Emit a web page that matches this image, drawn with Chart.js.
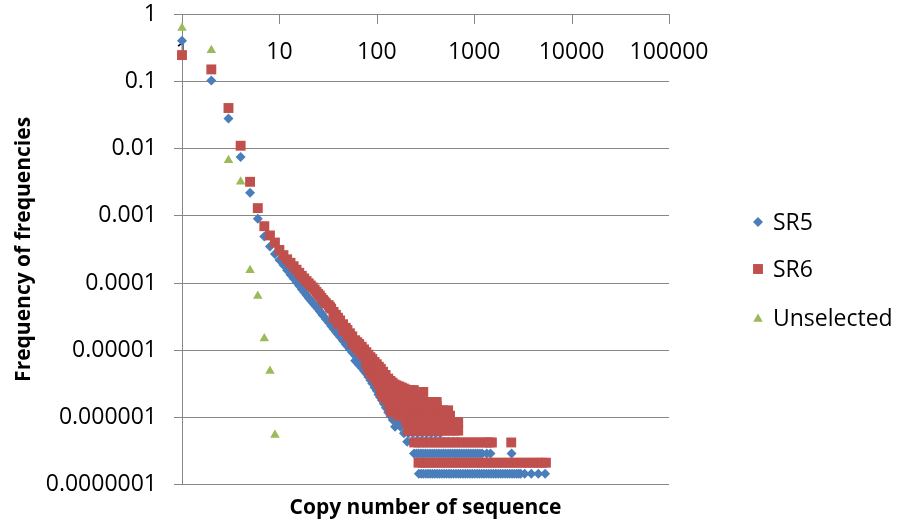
<!DOCTYPE html>
<html>
<head>
<meta charset="utf-8">
<script src="https://cdn.jsdelivr.net/npm/chart.js@4.4.0/dist/chart.umd.min.js"></script>
<style>
  html, body { margin: 0; padding: 0; background: #fff; }
  #wrap { width: 898px; height: 523px; }
</style>
</head>
<body>
<div id="wrap"><canvas id="freqChart" width="898" height="523"></canvas></div>
<script>
// ---- values ----
const seriesNames = ['SR5', 'SR6', 'Unselected'];
const xTickValues = [1, 10, 100, 1000, 10000, 100000];
const xTickLabels = ['1', '10', '100', '1000', '10000', '100000'];
const yTickValues = [1e-7, 1e-6, 1e-5, 1e-4, 1e-3, 1e-2, 1e-1, 1];
const yTickLabels = ['0.0000001', '0.000001', '0.00001', '0.0001', '0.001', '0.01', '0.1', '1'];

// [copy number, frequency]
const sr5Points = [
  [1, 0.40], [2, 0.103], [3, 0.028], [4, 0.0075], [5, 0.0022], [6, 0.0009],
  [7, 0.00049], [8, 0.00035], [9, 0.00027], [10, 0.00022], [11, 0.000185], [12, 0.000155],
  [13, 0.000133], [14, 0.000117], [15, 0.000103], [16, 0.000091], [17, 0.000081], [18, 0.000073],
  [19, 0.000066], [20, 0.00006], [21, 0.000055], [22, 0.000051], [23, 0.000047], [24, 0.000044],
  [25, 0.000041], [26, 0.000038], [27, 0.0000355], [28, 0.000033], [30, 0.000029], [32, 0.0000258],
  [34, 0.000023], [36, 0.0000208], [38, 0.0000188], [40, 0.0000172], [42, 0.0000158], [45, 0.0000139],
  [48, 0.0000123], [50, 0.0000115], [53, 0.0000103], [56, 0.0000093], [60, 0.0000083],
  [60, 0.000007], [63, 0.0000077], [63, 0.0000066], [66, 0.0000071], [66, 0.000006],
  [70, 0.0000065], [70, 0.0000055], [74, 0.000006], [74, 0.0000049], [78, 0.0000055], [78, 0.0000045],
  [82, 0.0000051], [82, 0.000004], [86, 0.0000047], [86, 0.0000036], [90, 0.0000043], [90, 0.0000032],
  [95, 0.0000039], [95, 0.0000028], [100, 0.0000035], [100, 0.0000025], [104, 0.0000032], [104, 0.0000022],
  [108, 0.000003], [108, 0.000002], [113, 0.0000027], [113, 0.0000018], [118, 0.0000025], [118, 0.0000016],
  [124, 0.0000023], [124, 0.0000014], [131, 0.000002], [131, 0.0000012], [138, 0.0000019], [138, 0.00000105],
  [146, 0.0000017], [146, 0.00000092], [154, 0.0000016], [154, 0.00000073], [165, 0.0000014], [176, 0.0000013],
  [188, 0.0000012], [200, 0.0000011]
];
// [frequency, copy numbers sharing it] : the flat rows at the bottom
const sr5Rows = [
  [1.46e-7, [270, 285, 300, 318, 335, 353, 372, 393, 415, 440, 465, 492, 520, 550, 580, 615, 650, 688,
             725, 768, 810, 857, 905, 957, 1010, 1070, 1130, 1195, 1260, 1335, 1410, 1490, 1575, 1665,
             1760, 1860, 1965, 2080, 2195, 2320, 2450, 2590, 2740, 2870, 3000, 3300, 3860, 4550, 5350]],
  [2.92e-7, [241, 255, 268, 283, 298, 315, 332, 351, 370, 390, 412, 435, 459, 485, 511, 540, 569, 601,
             634, 670, 706, 746, 786, 830, 875, 925, 975, 1030, 1085, 1145, 1210, 1345, 1470, 2420]],
  [4.38e-7, [205, 228, 254, 283, 315, 351, 391, 436, 486, 541, 603, 672]],
  [5.84e-7, [190, 211, 235, 262, 292, 325, 362, 403, 449]],
  [7.3e-7, [175, 195, 217, 241, 268, 298, 332, 370]],
  [8.76e-7, [163, 181, 202, 225, 250, 278, 310]],
  [1.17e-6, [150, 167, 186, 207, 230, 256]],
  [1.46e-6, [140, 156, 173, 193, 215]]
];

const sr6Points = [
  [1, 0.245], [2, 0.15], [3, 0.04], [4, 0.011], [5, 0.0032], [6, 0.0013],
  [7, 0.0007], [8, 0.00051], [9, 0.0004], [10, 0.00031], [11, 0.00026], [12, 0.000225],
  [13, 0.0002], [14, 0.000178], [15, 0.000158], [16, 0.000142], [17, 0.000128], [18, 0.000117],
  [19, 0.000107], [20, 0.000099], [21, 0.000092], [22, 0.000086], [23, 0.00008], [24, 0.000074],
  [25, 0.000069], [26, 0.000065], [27, 0.00006], [28, 0.000056], [29, 0.000053], [30, 0.00005],
  [32, 0.000047], [33, 0.000044], [34, 0.0000416], [36, 0.0000373], [38, 0.0000337], [40, 0.0000305],
  [42, 0.0000278], [45, 0.0000244], [48, 0.0000216], [50, 0.00002], [53, 0.0000179], [56, 0.0000161],
  [60, 0.0000141],
  [36, 0.00003], [40, 0.0000245], [45, 0.0000196], [50, 0.000016], [56, 0.0000128],
  [60, 0.0000116], [63, 0.0000132], [63, 0.0000108], [66, 0.0000124], [66, 0.0000099], [70, 0.0000113], [70, 0.000009],
  [74, 0.0000103], [74, 0.0000082], [78, 0.0000094], [78, 0.0000074], [78, 0.0000062],
  [82, 0.0000086], [82, 0.0000068], [82, 0.0000052], [86, 0.0000079], [86, 0.0000062], [86, 0.0000047],
  [90, 0.0000074], [90, 0.0000058], [90, 0.0000043], [95, 0.0000067], [95, 0.0000052], [95, 0.0000039],
  [100, 0.0000062], [100, 0.0000047], [100, 0.0000035], [105, 0.0000057], [105, 0.0000043], [105, 0.0000031],
  [110, 0.0000053], [110, 0.000004], [110, 0.0000029], [110, 0.0000024],
  [116, 0.0000048], [116, 0.0000036], [116, 0.0000027], [116, 0.0000021],
  [123, 0.0000043], [123, 0.0000033], [123, 0.0000025], [123, 0.0000019],
  [131, 0.0000038], [131, 0.000003], [131, 0.0000023], [131, 0.0000017],
  [138, 0.0000035], [138, 0.0000029], [138, 0.0000016], [138, 0.0000013],
  [145, 0.0000033], [145, 0.0000029], [145, 0.0000012], [152, 0.0000031], [160, 0.000003], [170, 0.0000029],
  [180, 0.0000028], [190, 0.0000027], [200, 0.0000026], [215, 0.0000025], [228, 0.0000024], [300, 0.0000024]
];
const sr6Rows = [
  [2.13e-7, [268, 297, 330, 371, 418, 470, 530, 596, 668, 752, 850, 955, 1080, 1210, 1365, 1540, 1730,
             1950, 2200, 2470, 2790, 3140, 3530, 3980, 4480, 5000, 5450]],
  [4.26e-7, [242, 268, 298, 332, 370, 412, 459, 511, 569, 634, 706, 786, 875, 975, 1085, 1210, 1345,
             1450, 1520, 2400]],
  [6.39e-7, [210, 235, 262, 292, 326, 364, 406, 453, 505, 563, 628, 685]],
  [8.52e-7, [200, 224, 250, 279, 311, 347, 387, 432, 482, 538, 600, 660, 685]],
  [1.065e-6, [165, 185, 207, 232, 260, 291, 326, 365, 409, 458, 512, 565]],
  [1.28e-6, [155, 174, 195, 218, 244, 273, 306, 343, 384, 430, 482, 540]],
  [1.49e-6, [145, 163, 183, 205, 230, 258, 289, 324, 363, 412]],
  [1.7e-6, [140, 157, 176, 197, 221, 248, 278, 311, 348, 390, 412]],
  [1.92e-6, [135, 151, 169, 189, 212, 237, 265, 280]],
  [2.13e-6, [130, 146, 163, 183, 205, 230, 258, 270]],
  [2.56e-6, [125, 140, 157, 176, 197, 221, 240]]
];

const unselPoints = [
  [1, 0.62], [2, 0.29], [3, 0.0067], [4, 0.0032], [5, 0.000155],
  [6, 0.000064], [7, 0.000015], [8, 0.0000049], [9, 0.00000055]
];

// ---- look ----
const colors = ['#4A7EBB', '#C0504D', '#9BBB59'];
const gridColor = '#868686';
const fontFamily = "'Open Sans', 'Liberation Sans', sans-serif";

const toXY = (points, rows = []) => {
  const out = points.map(([x, y]) => ({ x, y }));
  rows.forEach(([y, xs]) => xs.forEach(x => out.push({ x, y })));
  return out;
};

// tick marks of the top axis point down into the plot
const topAxisTicks = {
  id: 'topAxisTicks',
  beforeDatasetsDraw(chart) {
    const { ctx, scales: { x } } = chart;
    ctx.save();
    ctx.strokeStyle = gridColor;
    ctx.lineWidth = 1;
    xTickValues.forEach(v => {
      const px = Math.round(x.getPixelForValue(v)) + 0.5;
      ctx.beginPath();
      ctx.moveTo(px, x.bottom);
      ctx.lineTo(px, x.bottom + 10);
      ctx.stroke();
    });
    ctx.restore();
  }
};

// legend at the right, drawn with the datasets' own marker styles
const sideLegend = {
  id: 'sideLegend',
  afterDraw(chart) {
    const ctx = chart.ctx;
    const rows = [222, 269, 318];
    ctx.save();
    chart.data.datasets.forEach((ds, i) => {
      ctx.fillStyle = ds.backgroundColor;
      ctx.strokeStyle = ds.borderColor;
      Chart.helpers.drawPoint(ctx, {
        pointStyle: ds.pointStyle, radius: ds.pointRadius, borderWidth: 0, rotation: 0
      }, 758, rows[i] + (ds.pointStyle === 'triangle' ? 1 : 0));
      ctx.fillStyle = '#000';
      ctx.font = '23px ' + fontFamily;
      ctx.textBaseline = 'middle';
      ctx.textAlign = 'left';
      ctx.fillText(ds.label, 773, rows[i] + 1);
    });
    ctx.restore();
  }
};

new Chart(document.getElementById('freqChart'), {
  type: 'scatter',
  data: {
    datasets: [
      { label: seriesNames[0], data: toXY(sr5Points, sr5Rows), pointStyle: 'rectRot', pointRadius: 5,
        backgroundColor: colors[0], borderColor: colors[0], borderWidth: 0, order: 3, clip: false },
      { label: seriesNames[1], data: toXY(sr6Points, sr6Rows), pointStyle: 'rect', pointRadius: 7,
        backgroundColor: colors[1], borderColor: colors[1], borderWidth: 0, order: 2, clip: false },
      { label: seriesNames[2], data: toXY(unselPoints), pointStyle: 'triangle', pointRadius: 5.5,
        backgroundColor: colors[2], borderColor: colors[2], borderWidth: 0, order: 1, clip: false }
    ]
  },
  options: {
    responsive: false,
    animation: false,
    events: [],
    layout: { padding: { left: 0, right: 229, top: 0, bottom: 0 } },
    scales: {
      x: {
        type: 'logarithmic',
        position: 'top',
        z: 1,
        min: 1,
        max: 100000,
        afterFit: (scale) => {
          scale.height = 14;
          scale.paddingLeft = 0;
          scale.paddingRight = 0;
        },
        afterBuildTicks: (scale) => { scale.ticks = xTickValues.map(value => ({ value })); },
        ticks: {
          mirror: true,
          padding: 25,
          autoSkip: false,
          maxRotation: 0,
          color: '#000',
          font: { family: fontFamily, size: 23 },
          callback: (value) => xTickLabels[xTickValues.indexOf(value)]
        },
        grid: { drawOnChartArea: false, drawTicks: false },
        border: { color: gridColor, width: 1 }
      },
      y: {
        type: 'logarithmic',
        min: 1e-7,
        max: 1,
        afterFit: (scale) => {
          scale.width = 182;
          scale.paddingTop = 0;
          scale.paddingBottom = 0;
        },
        afterBuildTicks: (scale) => { scale.ticks = yTickValues.map(value => ({ value })); },
        ticks: {
          padding: 17,
          autoSkip: false,
          color: '#000',
          font: { family: fontFamily, size: 23 },
          callback: (value) => yTickLabels[yTickValues.indexOf(value)]
        },
        grid: { color: gridColor, tickLength: 8, drawTicks: true },
        border: { color: gridColor, width: 1 },
        title: {
          display: true,
          text: 'Frequency of frequencies',
          color: '#000',
          font: { family: fontFamily, size: 21, weight: 'bold' },
          padding: { top: 11, bottom: 0 }
        }
      }
    },
    plugins: {
      legend: { display: false },
      tooltip: { enabled: false },
      title: {
        display: true,
        position: 'bottom',
        fullSize: false,
        text: 'Copy number of sequence',
        color: '#000',
        font: { family: fontFamily, size: 21, weight: 'bold' },
        padding: { top: 11, bottom: 2 }
      }
    }
  },
  plugins: [topAxisTicks, sideLegend]
});
</script>
</body>
</html>
